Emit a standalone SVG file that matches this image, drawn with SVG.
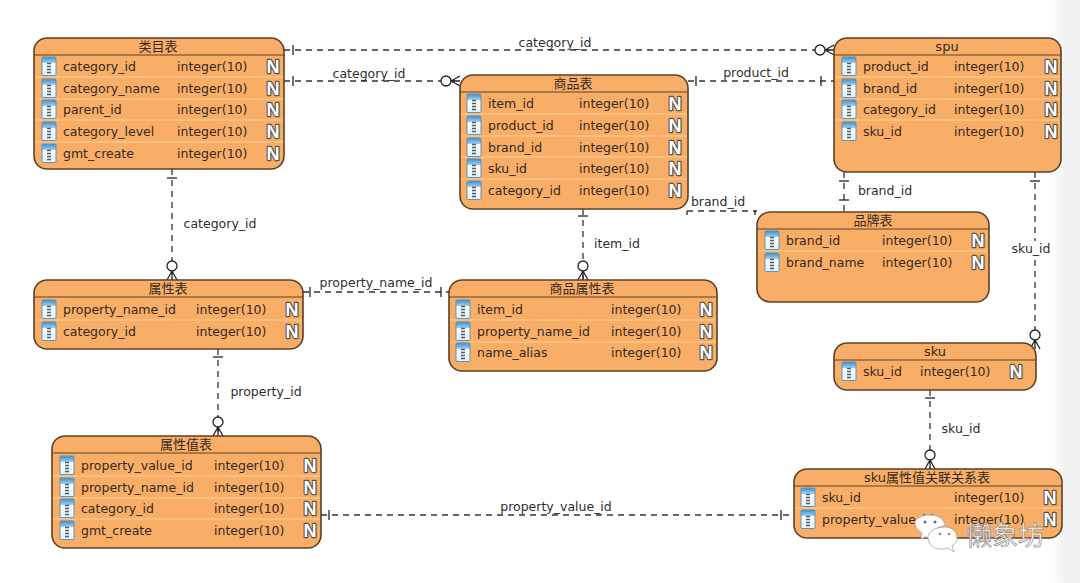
<svg xmlns="http://www.w3.org/2000/svg" width="1080" height="583" viewBox="0 0 1080 583">
  <style>
    text { font-family: "DejaVu Sans", "Noto Sans CJK SC", sans-serif; font-size: 12.5px; fill: #33291f; }
    .title { text-anchor: middle; font-size: 13px; }
    .box { fill: #f9ae67; stroke: #5c4025; stroke-width: 1.6; }
    .rule { stroke: #5c4025; stroke-width: 1.1; }
    .sep { stroke: #fdd095; stroke-width: 1.2; }
    .dash { fill: none; stroke: #333; stroke-width: 1.3; stroke-dasharray: 6 5; }
    .tick { fill: none; stroke: #222; stroke-width: 1.3; }
    .lbl { text-anchor: middle; fill: #2e2e2e; }
    .nb { font-family: "Liberation Sans", sans-serif; font-weight: bold; font-size: 18px; fill: #fff; stroke: #555; stroke-width: 2.4; stroke-linejoin: round; text-anchor: middle; paint-order: stroke; }
    .wm { font-size: 26px; font-family: "Noto Sans CJK SC", sans-serif; fill: #fff; stroke: #8a8a8a; stroke-width: .7; }
    .bub { fill: #fff; stroke: #a5a5a5; stroke-width: .8; }
  </style>
  <defs>
    <linearGradient id="edge" x1="0" x2="1" y1="0" y2="0">
      <stop offset="0" stop-color="#fff"/>
      <stop offset="0.55" stop-color="#f0f0f0"/>
      <stop offset="1" stop-color="#f0f0f0"/>
    </linearGradient>
    <linearGradient id="ico" x1="0" x2="0" y1="0" y2="1">
      <stop offset="0" stop-color="#3f8fd0"/>
      <stop offset="0.3" stop-color="#9ccbec"/>
      <stop offset="0.31" stop-color="#ffffff"/>
      <stop offset="1" stop-color="#e4f0f8"/>
    </linearGradient>
    <!-- column icon, origin at the row centre-left -->
    <g id="col">
      <rect x="0" y="-9" width="14" height="18.5" rx="1" fill="url(#ico)" stroke="#5b93bd" stroke-width="1"/>
      <path d="M5 -2.5h4M5 0.5h4M5 3.5h4M5 6.5h4" stroke="#44606f" stroke-width="1.3"/>
    </g>
    <!-- nullable badge, origin at the badge centre -->
    <text id="nul" class="nb" x="0" y="6.5">N</text>
    <!-- relationship ends, drawn pointing along +x -->
    <path id="bar" class="tick" d="M0 -5V5"/>
    <g id="foot">
      <circle class="tick" cx="-14" cy="0" r="5" style="fill:#fff"/>
      <path class="tick" d="M-9 0L0 -5M-9 0L0 0M-9 0L0 5"/>
    </g>
  </defs>

  <rect width="1080" height="583" fill="#fff"/>
  <rect x="1050" y="0" width="30" height="583" fill="url(#edge)"/>

  <g id="connectors">
    <path class="dash" d="M284 50H834"/>
    <use href="#bar" x="293" y="50"/>
    <use href="#foot" transform="translate(834 50)"/>
    <text class="lbl" x="555" y="47">category_id</text>

    <path class="dash" d="M284 81H460"/>
    <use href="#bar" x="293" y="81"/>
    <use href="#foot" transform="translate(460 81)"/>
    <text class="lbl" x="369" y="78">category_id</text>

    <path class="dash" d="M688 81H834"/>
    <use href="#bar" x="696" y="81"/>
    <use href="#bar" x="821" y="81"/>
    <text class="lbl" x="756" y="77">product_id</text>

    <path class="dash" d="M172 169V280"/>
    <use href="#bar" transform="translate(172 178) rotate(90)"/>
    <use href="#foot" transform="translate(172 280) rotate(90)"/>
    <text class="lbl" x="220" y="228">category_id</text>

    <path class="dash" d="M583 209V280"/>
    <use href="#bar" transform="translate(583 216) rotate(90)"/>
    <use href="#foot" transform="translate(583 280) rotate(90)"/>
    <text class="lbl" x="617" y="248">item_id</text>

    <path class="dash" d="M303 292H449"/>
    <use href="#bar" x="310" y="292"/>
    <use href="#bar" x="441" y="292"/>
    <text class="lbl" x="376" y="287">property_name_id</text>

    <path class="dash" d="M218 349V436"/>
    <use href="#bar" transform="translate(218 357) rotate(90)"/>
    <use href="#foot" transform="translate(218 436) rotate(90)"/>
    <text class="lbl" x="266" y="396">property_id</text>

    <path class="dash" d="M321 515H794"/>
    <use href="#bar" x="329" y="515"/>
    <use href="#bar" x="781" y="515"/>
    <text class="lbl" x="556" y="511">property_value_id</text>

    <path class="dash" d="M844 172V212"/>
    <use href="#bar" transform="translate(844 181) rotate(90)"/>
    <use href="#bar" transform="translate(844 200) rotate(90)"/>
    <text class="lbl" x="885" y="195">brand_id</text>

    <path class="dash" d="M687 211H757"/>
    <path class="tick" d="M687 211v4M755 211v4"/>
    <text class="lbl" x="718" y="206">brand_id</text>

    <path class="dash" d="M1035 172V343"/>
    <use href="#bar" transform="translate(1035 181) rotate(90)"/>
    <use href="#foot" transform="translate(1035 349) rotate(90)"/>
    <rect x="1009" y="241" width="44" height="16" fill="#fff"/>
    <text class="lbl" x="1031" y="253">sku_id</text>

    <path class="dash" d="M930 390V469"/>
    <use href="#bar" transform="translate(930 398) rotate(90)"/>
    <use href="#foot" transform="translate(930 469) rotate(90)"/>
    <text class="lbl" x="961" y="433">sku_id</text>
  </g>

  <g id="category">
    <rect class="box" x="34" y="38" width="250" height="131" rx="13"/>
    <path class="rule" d="M34 55H284"/>
    <path class="sep" d="M35 77H283M35 99H283M35 120H283M35 142H283"/>
    <text class="title" x="158" y="51">类目表</text>
    <use href="#col" x="42" y="66"/><text x="63" y="70.5">category_id</text><text x="177" y="70.5">integer(10)</text><use href="#nul" x="273" y="66"/>
    <use href="#col" x="42" y="88"/><text x="63" y="92.5">category_name</text><text x="177" y="92.5">integer(10)</text><use href="#nul" x="273" y="88"/>
    <use href="#col" x="42" y="109"/><text x="63" y="113.5">parent_id</text><text x="177" y="113.5">integer(10)</text><use href="#nul" x="273" y="109"/>
    <use href="#col" x="42" y="131"/><text x="63" y="135.5">category_level</text><text x="177" y="135.5">integer(10)</text><use href="#nul" x="273" y="131"/>
    <use href="#col" x="42" y="153"/><text x="63" y="157.5">gmt_create</text><text x="177" y="157.5">integer(10)</text><use href="#nul" x="273" y="153"/>
  </g>

  <g id="item">
    <rect class="box" x="460" y="75" width="228" height="134" rx="13"/>
    <path class="rule" d="M460 92H688"/>
    <path class="sep" d="M461 114H687M461 136H687M461 157H687M461 179H687"/>
    <text class="title" x="573" y="88">商品表</text>
    <use href="#col" x="467" y="103"/><text x="488" y="107.5">item_id</text><text x="579" y="107.5">integer(10)</text><use href="#nul" x="675" y="103"/>
    <use href="#col" x="467" y="125"/><text x="488" y="129.5">product_id</text><text x="579" y="129.5">integer(10)</text><use href="#nul" x="675" y="125"/>
    <use href="#col" x="467" y="147"/><text x="488" y="151.5">brand_id</text><text x="579" y="151.5">integer(10)</text><use href="#nul" x="675" y="147"/>
    <use href="#col" x="467" y="168"/><text x="488" y="172.5">sku_id</text><text x="579" y="172.5">integer(10)</text><use href="#nul" x="675" y="168"/>
    <use href="#col" x="467" y="190"/><text x="488" y="194.5">category_id</text><text x="579" y="194.5">integer(10)</text><use href="#nul" x="675" y="190"/>
  </g>

  <g id="spu">
    <rect class="box" x="834" y="38" width="227" height="134" rx="13"/>
    <path class="rule" d="M834 55H1061"/>
    <path class="sep" d="M835 77H1060M835 99H1060M835 120H1060"/>
    <text class="title" x="947" y="51">spu</text>
    <use href="#col" x="842" y="66"/><text x="863" y="70.5">product_id</text><text x="954" y="70.5">integer(10)</text><use href="#nul" x="1051" y="66"/>
    <use href="#col" x="842" y="88"/><text x="863" y="92.5">brand_id</text><text x="954" y="92.5">integer(10)</text><use href="#nul" x="1051" y="88"/>
    <use href="#col" x="842" y="109"/><text x="863" y="113.5">category_id</text><text x="954" y="113.5">integer(10)</text><use href="#nul" x="1051" y="109"/>
    <use href="#col" x="842" y="131"/><text x="863" y="135.5">sku_id</text><text x="954" y="135.5">integer(10)</text><use href="#nul" x="1051" y="131"/>
  </g>

  <g id="brand">
    <rect class="box" x="757" y="212" width="232" height="90" rx="13"/>
    <path class="rule" d="M757 229H989"/>
    <path class="sep" d="M758 251H988"/>
    <text class="title" x="873" y="225">品牌表</text>
    <use href="#col" x="765" y="240"/><text x="786" y="244.5">brand_id</text><text x="882" y="244.5">integer(10)</text><use href="#nul" x="978" y="240"/>
    <use href="#col" x="765" y="262"/><text x="786" y="266.5">brand_name</text><text x="882" y="266.5">integer(10)</text><use href="#nul" x="978" y="262"/>
  </g>

  <g id="property">
    <rect class="box" x="34" y="280" width="269" height="69" rx="13"/>
    <path class="rule" d="M34 297H303"/>
    <path class="sep" d="M35 320H302"/>
    <text class="title" x="168" y="293">属性表</text>
    <use href="#col" x="42" y="309"/><text x="63" y="313.5">property_name_id</text><text x="196" y="313.5">integer(10)</text><use href="#nul" x="292" y="309"/>
    <use href="#col" x="42" y="331"/><text x="63" y="335.5">category_id</text><text x="196" y="335.5">integer(10)</text><use href="#nul" x="292" y="331"/>
  </g>

  <g id="item_property">
    <rect class="box" x="449" y="280" width="268" height="91" rx="13"/>
    <path class="rule" d="M449 297H717"/>
    <path class="sep" d="M450 320H716M450 342H716"/>
    <text class="title" x="582" y="293">商品属性表</text>
    <use href="#col" x="456" y="309"/><text x="477" y="313.5">item_id</text><text x="611" y="313.5">integer(10)</text><use href="#nul" x="706" y="309"/>
    <use href="#col" x="456" y="331"/><text x="477" y="335.5">property_name_id</text><text x="611" y="335.5">integer(10)</text><use href="#nul" x="706" y="331"/>
    <use href="#col" x="456" y="352"/><text x="477" y="356.5">name_alias</text><text x="611" y="356.5">integer(10)</text><use href="#nul" x="706" y="352"/>
  </g>

  <g id="property_value">
    <rect class="box" x="52" y="436" width="269" height="112" rx="13"/>
    <path class="rule" d="M52 453H321"/>
    <path class="sep" d="M53 476H320M53 498H320M53 519H320"/>
    <text class="title" x="186" y="449">属性值表</text>
    <use href="#col" x="60" y="465"/><text x="81" y="469.5">property_value_id</text><text x="214" y="469.5">integer(10)</text><use href="#nul" x="310" y="465"/>
    <use href="#col" x="60" y="487"/><text x="81" y="491.5">property_name_id</text><text x="214" y="491.5">integer(10)</text><use href="#nul" x="310" y="487"/>
    <use href="#col" x="60" y="508"/><text x="81" y="512.5">category_id</text><text x="214" y="512.5">integer(10)</text><use href="#nul" x="310" y="508"/>
    <use href="#col" x="60" y="530"/><text x="81" y="534.5">gmt_create</text><text x="214" y="534.5">integer(10)</text><use href="#nul" x="310" y="530"/>
  </g>

  <g id="sku">
    <rect class="box" x="834" y="343" width="202" height="47" rx="13"/>
    <path class="rule" d="M834 360H1036"/>
    <text class="title" x="935" y="356">sku</text>
    <use href="#col" x="842" y="371"/><text x="863" y="375.5">sku_id</text><text x="920" y="375.5">integer(10)</text><use href="#nul" x="1016" y="371"/>
  </g>

  <g id="sku_property_value">
    <rect class="box" x="794" y="469" width="268" height="69" rx="13"/>
    <path class="rule" d="M794 486H1062"/>
    <path class="sep" d="M795 508H1061"/>
    <text class="title" x="927" y="482">sku属性值关联关系表</text>
    <use href="#col" x="801" y="497"/><text x="822" y="501.5">sku_id</text><text x="954" y="501.5">integer(10)</text><use href="#nul" x="1050" y="497"/>
    <use href="#col" x="801" y="519"/><text x="822" y="523.5">property_value_id</text><text x="954" y="523.5">integer(10)</text><use href="#nul" x="1050" y="519"/>
  </g>

  <!-- account mark over the lower right table -->
  <g id="mark">
    <path class="bub" d="M921 539l1-6c-4-3-7-6-7-10c0-4 6-8 15-8c9 0 15 5 15 11c-8 0-13 5-13 11c-3 1-5 0-7 0z"/>
    <path class="bub" d="M945 527c7 0 12 5 12 11c0 4-2 6-5 8l2 6l-6-4c-8 3-20 0-20-10c0-7 8-11 17-11z"/>
    <circle cx="925" cy="522" r="1.5" fill="#6b6b6b"/><circle cx="935" cy="522" r="1.5" fill="#6b6b6b"/>
    <circle cx="940" cy="534" r="1.3" fill="#8a8a8a"/><circle cx="949" cy="534" r="1.3" fill="#8a8a8a"/>
    <text class="wm" x="966" y="545">懒象坊</text>
  </g>
</svg>
